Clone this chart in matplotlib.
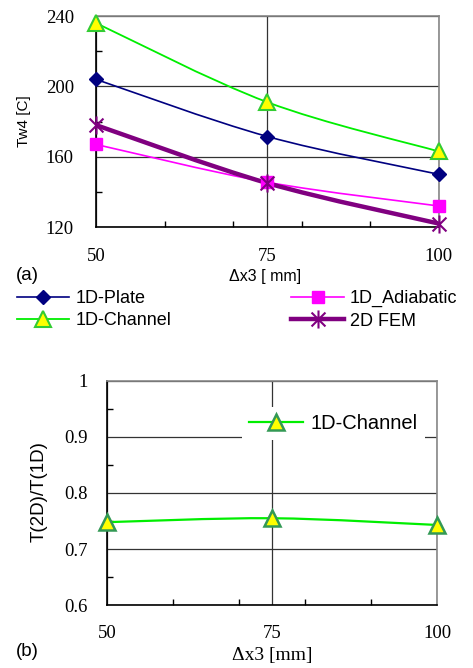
import matplotlib
matplotlib.use("Agg")
import matplotlib.pyplot as plt
from matplotlib.path import Path
from matplotlib.patches import PathPatch
from matplotlib.lines import Line2D
from matplotlib.ticker import FixedLocator, FixedFormatter

# data
dx3 = [50, 75, 100]
plate = [204, 171.5, 150]
adiabatic = [167, 145.5, 132]
channel = [236, 191, 163]
fem = [178, 145, 122]
ratio = [0.748, 0.755, 0.743]

serif = "Liberation Serif"
sans = "Liberation Sans"

# excel style star marker (x with a vertical bar)
star = Path([(-1, -1), (1, 1), (-1, 1), (1, -1), (0, -1.3), (0, 1.3)],
            [Path.MOVETO, Path.LINETO, Path.MOVETO, Path.LINETO, Path.MOVETO, Path.LINETO])


def smooth(ax, xs, ys, color, lw):
    # smoothed line through the points, like the excel "smoothed line" option
    pts = list(zip(xs, ys))
    verts = [pts[0]]
    codes = [Path.MOVETO]
    for i in range(len(pts) - 1):
        p0 = pts[i - 1] if i > 0 else pts[i]
        p1 = pts[i]
        p2 = pts[i + 1]
        p3 = pts[i + 2] if i + 2 < len(pts) else pts[i + 1]
        c1 = (p1[0] + (p2[0] - p0[0]) / 6, p1[1] + (p2[1] - p0[1]) / 6)
        c2 = (p2[0] - (p3[0] - p1[0]) / 6, p2[1] - (p3[1] - p1[1]) / 6)
        verts += [c1, c2, p2]
        codes += [Path.CURVE4] * 3
    ax.add_patch(PathPatch(Path(verts, codes), fill=False, edgecolor=color, lw=lw, zorder=2))


def style(ax, ymajor, yminor, ylabels):
    for s in ["left", "bottom"]:
        ax.spines[s].set_color("black")
        ax.spines[s].set_linewidth(1.2)
    for s in ["top", "right"]:
        ax.spines[s].set_color("#888888")
        ax.spines[s].set_linewidth(1.2)
    ax.set_xlim(50, 100)
    ax.xaxis.set_major_locator(FixedLocator(dx3))
    ax.xaxis.set_minor_locator(FixedLocator([60, 70, 80, 90]))
    ax.yaxis.set_major_locator(FixedLocator(ymajor))
    ax.yaxis.set_minor_locator(FixedLocator(yminor))
    ax.yaxis.set_major_formatter(FixedFormatter(ylabels))
    ax.tick_params(which="major", length=0)
    ax.tick_params(which="minor", direction="in", length=4, width=1, color="black")
    ax.grid(True, which="major", color="#333333", lw=0.9)
    for t in ax.get_xticklabels() + ax.get_yticklabels():
        t.set_fontfamily(serif)
        t.set_fontsize(13.5)


fig = plt.figure(figsize=(4.73, 6.68), dpi=100)

# (a)
ax1 = fig.add_axes([0.203, 0.660, 0.725, 0.316])
ax1.set_ylim(120, 240)
style(ax1, [120, 160, 200, 240], [140, 180, 220], ["120", "160", "200", "240"])
ax1.tick_params(axis="x", pad=15)
ax1.tick_params(axis="y", pad=16)

smooth(ax1, dx3, plate, "#000080", 1.2)
smooth(ax1, dx3, adiabatic, "#ff00ff", 1.2)
smooth(ax1, dx3, channel, "#00ee00", 1.3)
smooth(ax1, dx3, fem, "#800080", 3.2)
ax1.plot(dx3, plate, ls="none", marker="D", ms=7, color="#000080", clip_on=False, zorder=3)
ax1.plot(dx3, adiabatic, ls="none", marker="s", ms=9, color="#ff00ff", clip_on=False, zorder=3)
ax1.plot(dx3, channel, ls="none", marker="^", ms=12, mfc="#ffff00", mec="#33cc33", mew=1.5,
         clip_on=False, zorder=3)
ax1.plot(dx3, fem, ls="none", marker=star, ms=13, color="#800080", mew=1.5, clip_on=False, zorder=4)

ax1.set_xlabel("Δx3 [ mm]", fontfamily=sans, fontsize=11.5)
ax1.xaxis.set_label_coords(0.493, -0.20)
ax1.set_ylabel("Tw4 [C]", fontfamily=sans, fontsize=11)
ax1.yaxis.set_label_coords(-0.19, 0.50)
fig.text(0.034, 0.587, "(a)", fontfamily=sans, fontsize=13.5, va="center")

h_plate = Line2D([], [], color="#000080", lw=1.2, marker="D", ms=7)
h_chan = Line2D([], [], color="#00ee00", lw=1.3, marker="^", ms=12, mfc="#ffff00", mec="#33cc33", mew=1.5)
h_adia = Line2D([], [], color="#ff00ff", lw=1.2, marker="s", ms=9)
h_fem = Line2D([], [], color="#800080", lw=3.2, marker=star, ms=13, mew=1.5)

leg_kw = dict(frameon=False, prop={"family": sans, "size": 13}, handlelength=2.9,
              handletextpad=0.35, labelspacing=0.3, borderpad=0, borderaxespad=0, loc="upper left")
fig.legend([h_plate, h_chan], ["1D-Plate", "1D-Channel"], bbox_to_anchor=(0.036, 0.566), **leg_kw)
fig.legend([h_adia, h_fem], ["1D_Adiabatic", "2D FEM"], bbox_to_anchor=(0.616, 0.566), **leg_kw)

# (b)
ax2 = fig.add_axes([0.226, 0.094, 0.698, 0.336])
ax2.set_ylim(0.6, 1.0)
style(ax2, [0.6, 0.7, 0.8, 0.9, 1.0], [0.65, 0.75, 0.85, 0.95], ["0.6", "0.7", "0.8", "0.9", "1"])
ax2.tick_params(axis="x", pad=14)
ax2.tick_params(axis="y", pad=14)

smooth(ax2, dx3, ratio, "#00ee00", 1.6)
ax2.plot(dx3, ratio, ls="none", marker="^", ms=12, mfc="#ffff00", mec="#339955", mew=1.8,
         clip_on=False, zorder=3)
h_ratio = Line2D([], [], color="#00ee00", lw=1.6, marker="^", ms=12, mfc="#ffff00", mec="#339955", mew=1.8)
leg = ax2.legend([h_ratio], ["1D-Channel"], loc="center left", bbox_to_anchor=(0.409, 0.811),
                 prop={"family": sans, "size": 14.5}, handlelength=2.7, handletextpad=0.35,
                 borderpad=0.35, borderaxespad=0, fancybox=False, framealpha=1)
leg.get_frame().set_edgecolor("none")

ax2.set_xlabel("Δx3 [mm]", fontfamily=serif, fontsize=14)
ax2.xaxis.set_label_coords(0.50, -0.185)
ax2.set_ylabel("T(2D)/T(1D)", fontfamily=sans, fontsize=13.5)
ax2.yaxis.set_label_coords(-0.18, 0.505)
fig.text(0.034, 0.024, "(b)", fontfamily=sans, fontsize=13.5, va="center")

fig.savefig("out.png", dpi=100)
